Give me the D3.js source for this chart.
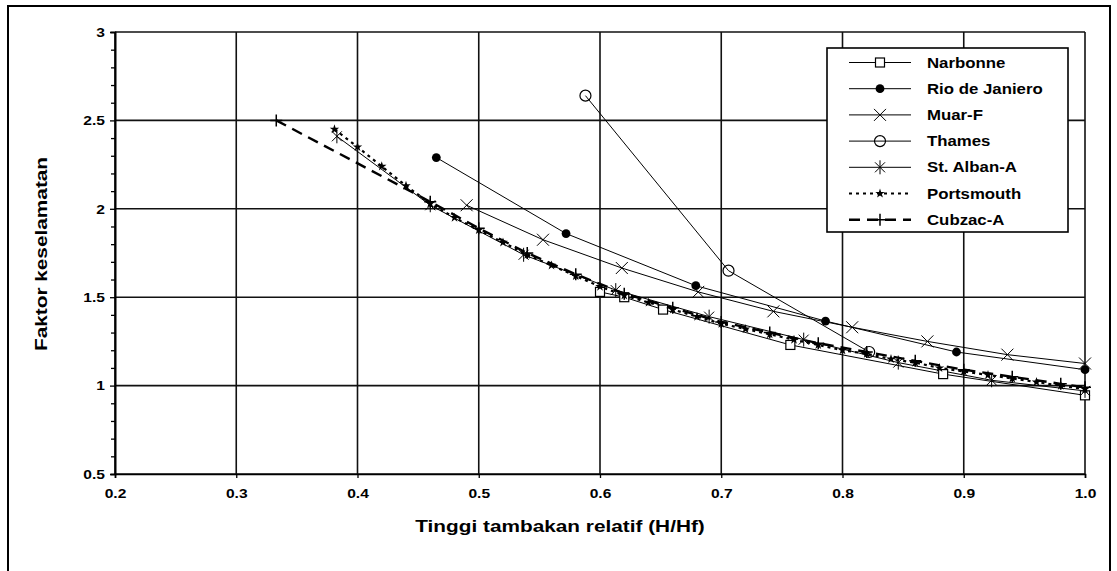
<!DOCTYPE html>
<html>
<head>
<meta charset="utf-8">
<script src="https://cdn.jsdelivr.net/npm/d3@7"></script>
<style>
  html, body { margin: 0; padding: 0; background: #fff; }
  svg { display: block; }
  text { font-family: "Liberation Sans", Arial, sans-serif; font-weight: bold; fill: #000; }
</style>
</head>
<body>
<svg id="chart" width="1117" height="571"></svg>
<script>
// Axis ticks
const xTicks = [0.2, 0.3, 0.4, 0.5, 0.6, 0.7, 0.8, 0.9, 1.0];
const yTicks = [0.5, 1, 1.5, 2, 2.5, 3];
const yMinorTicks = [0.6, 0.7, 0.8, 0.9, 1.1, 1.2, 1.3, 1.4, 1.6, 1.7, 1.8, 1.9,
                     2.1, 2.2, 2.3, 2.4, 2.6, 2.7, 2.8, 2.9];

// Series: relative fill height (H/Hf) and safety factor
const narbonneX = [0.600, 0.620, 0.652, 0.757, 0.883, 1.000];
const narbonneY = [1.53, 1.50, 1.43, 1.23, 1.065, 0.945];

const rioX = [0.465, 0.572, 0.679, 0.786, 0.894, 1.000];
const rioY = [2.29, 1.86, 1.565, 1.365, 1.19, 1.09];

const muarX = [0.490, 0.553, 0.618, 0.681, 0.743, 0.808, 0.870, 0.936, 1.000];
const muarY = [2.02, 1.825, 1.665, 1.53, 1.42, 1.33, 1.25, 1.175, 1.125];

const thamesX = [0.588, 0.706, 0.822];
const thamesY = [2.64, 1.65, 1.19];

const stAlbanX = [0.383, 0.460, 0.537, 0.613, 0.690, 0.768, 0.846, 0.923, 1.000];
const stAlbanY = [2.41, 2.02, 1.74, 1.54, 1.39, 1.26, 1.13, 1.03, 0.97];

const portsmouthX = [0.381, 0.40, 0.42, 0.44, 0.46, 0.48, 0.50, 0.52, 0.54, 0.56, 0.58,
                     0.60, 0.62, 0.64, 0.66, 0.68, 0.70, 0.72, 0.74, 0.76, 0.78, 0.80,
                     0.82, 0.84, 0.86, 0.88, 0.90, 0.92, 0.94, 0.96, 0.98, 1.00];
const portsmouthY = [2.45, 2.35, 2.24, 2.13, 2.03, 1.95, 1.88, 1.81, 1.74, 1.68, 1.62,
                     1.56, 1.51, 1.47, 1.43, 1.39, 1.35, 1.32, 1.29, 1.26, 1.23, 1.20,
                     1.18, 1.15, 1.13, 1.10, 1.08, 1.06, 1.04, 1.02, 1.00, 0.98];

const cubzacX = [0.333, 0.46, 0.50, 0.54, 0.58, 0.62, 0.66, 0.70, 0.74, 0.78, 0.82,
                 0.86, 0.90, 0.94, 0.98, 1.00];
const cubzacY = [2.50, 2.04, 1.89, 1.75, 1.63, 1.52, 1.44, 1.36, 1.30, 1.24, 1.19,
                 1.14, 1.09, 1.05, 1.01, 0.99];

const seriesNames = ["Narbonne", "Rio de Janiero", "Muar-F", "Thames", "St. Alban-A", "Portsmouth", "Cubzac-A"];

const zip = (xs, ys) => xs.map((v, i) => ({ x: v, y: ys[i] }));
const series = [
  { name: seriesNames[0], pts: zip(narbonneX, narbonneY), marker: "square", dash: null, width: 1 },
  { name: seriesNames[1], pts: zip(rioX, rioY), marker: "dot", dash: null, width: 1 },
  { name: seriesNames[2], pts: zip(muarX, muarY), marker: "x", dash: null, width: 1 },
  { name: seriesNames[3], pts: zip(thamesX, thamesY), marker: "circle", dash: null, width: 1 },
  { name: seriesNames[4], pts: zip(stAlbanX, stAlbanY), marker: "asterisk", dash: null, width: 1 },
  { name: seriesNames[5], pts: zip(portsmouthX, portsmouthY), marker: "star", dash: "3,4", width: 2.2 },
  { name: seriesNames[6], pts: zip(cubzacX, cubzacY), marker: "plus", dash: "11,7", width: 2.4 }
];

const svg = d3.select("#chart");
const x = d3.scaleLinear().domain([0.2, 1.0]).range([115, 1085]);
const y = d3.scaleLinear().domain([0.5, 3]).range([474, 32]);

// Outer frame
svg.append("rect").attr("x", 8).attr("y", 6).attr("width", 1102).attr("height", 620)
  .attr("fill", "none").attr("stroke", "#000").attr("stroke-width", 2);

// Grid
const grid = svg.append("g").attr("stroke", "#111").attr("stroke-width", 1.6);
grid.selectAll("line.v").data(xTicks).join("line")
  .attr("x1", d => x(d)).attr("x2", d => x(d)).attr("y1", y(3)).attr("y2", y(0.5));
grid.selectAll("line.h").data(yTicks).join("line")
  .attr("x1", x(0.2)).attr("x2", x(1.0)).attr("y1", d => y(d)).attr("y2", d => y(d));

// Axes
const sx = 1.3;
const yAxis = svg.append("g").attr("transform", `translate(${x(0.2)},0)`)
  .call(d3.axisLeft(y).tickValues(yTicks).tickSize(5).tickPadding(0).tickFormat(d => String(d)));
yAxis.selectAll("text").attr("x", 0).attr("dy", "0.35em")
  .attr("transform", `translate(-10,0) scale(${sx},1)`).style("font-size", "12px");
svg.append("g").attr("transform", `translate(${x(0.2)},0)`)
  .call(d3.axisLeft(y).tickValues(yMinorTicks).tickSize(4).tickFormat(""));

const xAxis = svg.append("g").attr("transform", `translate(0,${y(0.5)})`)
  .call(d3.axisBottom(x).tickValues(xTicks).tickSize(4).tickPadding(0).tickFormat(d3.format(".1f")));
xAxis.selectAll("text").attr("y", 0).attr("dy", "0.35em")
  .attr("transform", `translate(0,20) scale(${sx},1)`).style("font-size", "12px");

svg.selectAll(".domain").attr("stroke", "#000").attr("stroke-width", 1.6);
svg.selectAll(".tick line").attr("stroke", "#000").attr("stroke-width", 1.3);

// Axis titles
svg.append("text").attr("text-anchor", "middle")
  .attr("transform", `translate(560,532) scale(${sx},1)`)
  .style("font-size", "16px").text("Tinggi tambakan relatif (H/Hf)");
svg.append("text").attr("text-anchor", "middle")
  .attr("transform", `translate(47,254) rotate(-90) scale(${sx},1)`)
  .style("font-size", "16px").text("Faktor keselamatan");

// Marker drawing
function drawMarker(g, type) {
  switch (type) {
    case "square":
      g.append("rect").attr("x", -4.5).attr("y", -4.5).attr("width", 9).attr("height", 9)
        .attr("fill", "#fff").attr("stroke", "#000").attr("stroke-width", 1.2);
      break;
    case "dot":
      g.append("circle").attr("r", 4.4).attr("fill", "#000");
      break;
    case "x":
      g.append("path").attr("d", "M-6,-6L6,6M-6,6L6,-6").attr("stroke", "#000").attr("stroke-width", 1);
      break;
    case "circle":
      g.append("circle").attr("r", 5.5).attr("fill", "none").attr("stroke", "#000").attr("stroke-width", 1.2);
      break;
    case "asterisk":
      g.append("path").attr("d", "M-5,-5L5,5M-5,5L5,-5M0,-7V7").attr("stroke", "#000").attr("stroke-width", 1);
      break;
    case "star":
      g.append("path").attr("d", d3.symbol(d3.symbolStar, 28)()).attr("fill", "#000");
      break;
    case "plus":
      g.append("path").attr("d", "M-6,0H6M0,-6V6").attr("stroke", "#000").attr("stroke-width", 1.5);
      break;
  }
}

const line = d3.line().x(d => x(d.x)).y(d => y(d.y));

series.forEach(s => {
  svg.append("path").datum(s.pts).attr("d", line)
    .attr("fill", "none").attr("stroke", "#000").attr("stroke-width", s.width)
    .attr("stroke-dasharray", s.dash);
});
series.forEach(s => {
  svg.append("g").selectAll("g").data(s.pts).join("g")
    .attr("transform", d => `translate(${x(d.x)},${y(d.y)})`)
    .each(function () { drawMarker(d3.select(this), s.marker); });
});

// Legend
const legend = svg.append("g");
legend.append("rect").attr("x", 827).attr("y", 48).attr("width", 241).attr("height", 184)
  .attr("fill", "#fff").attr("stroke", "#000").attr("stroke-width", 1.6);
series.forEach((s, i) => {
  const ly = 62.5 + i * 26.2;
  legend.append("line").attr("x1", 849).attr("x2", 911).attr("y1", ly).attr("y2", ly)
    .attr("stroke", "#000").attr("stroke-width", s.width).attr("stroke-dasharray", s.dash);
  drawMarker(legend.append("g").attr("transform", `translate(880,${ly})`), s.marker);
  legend.append("text").attr("transform", `translate(927,${ly + 5}) scale(1.2,1)`)
    .style("font-size", "14px").text(s.name);
});
</script>
</body>
</html>
